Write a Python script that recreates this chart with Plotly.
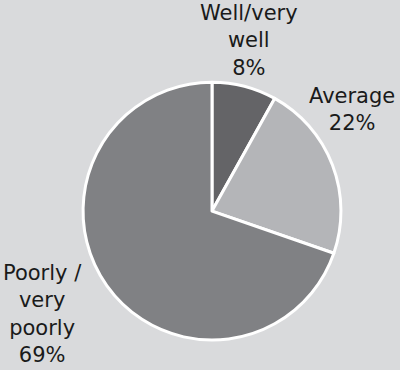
import plotly.graph_objects as go

# Survey responses: how well things are going
categories = ["Well/very<br>well", "Average", "Poorly /<br>very<br>poorly"]
values = [8, 22, 69]
slice_colors = ["#646467", "#b4b5b8", "#808184"]

# label anchor positions (paper coords) for each slice
label_x = [0.622, 0.88, 0.105]
label_y = [0.89, 0.703, 0.152]

bg = "#d9dadc"

fig = go.Figure(
    go.Pie(
        labels=categories,
        values=values,
        sort=False,
        direction="clockwise",
        rotation=0,
        marker=dict(colors=slice_colors, line=dict(color="white", width=3)),
        textinfo="none",
        hoverinfo="label+percent",
        domain=dict(x=[0.2075, 0.8525], y=[0.081, 0.778]),
        showlegend=False,
    )
)

for cat, val, x, y in zip(categories, values, label_x, label_y):
    fig.add_annotation(
        text=f"{cat}<br>{val}%",
        x=x, y=y, xref="paper", yref="paper",
        xanchor="center", yanchor="middle",
        showarrow=False, align="center",
        font=dict(size=21, color="#1a1a1a"),
    )

fig.update_layout(
    width=400, height=370,
    margin=dict(l=0, r=0, t=0, b=0),
    paper_bgcolor=bg, plot_bgcolor=bg,
    font=dict(family="DejaVu Sans"),
)

fig.write_html("out.html")
